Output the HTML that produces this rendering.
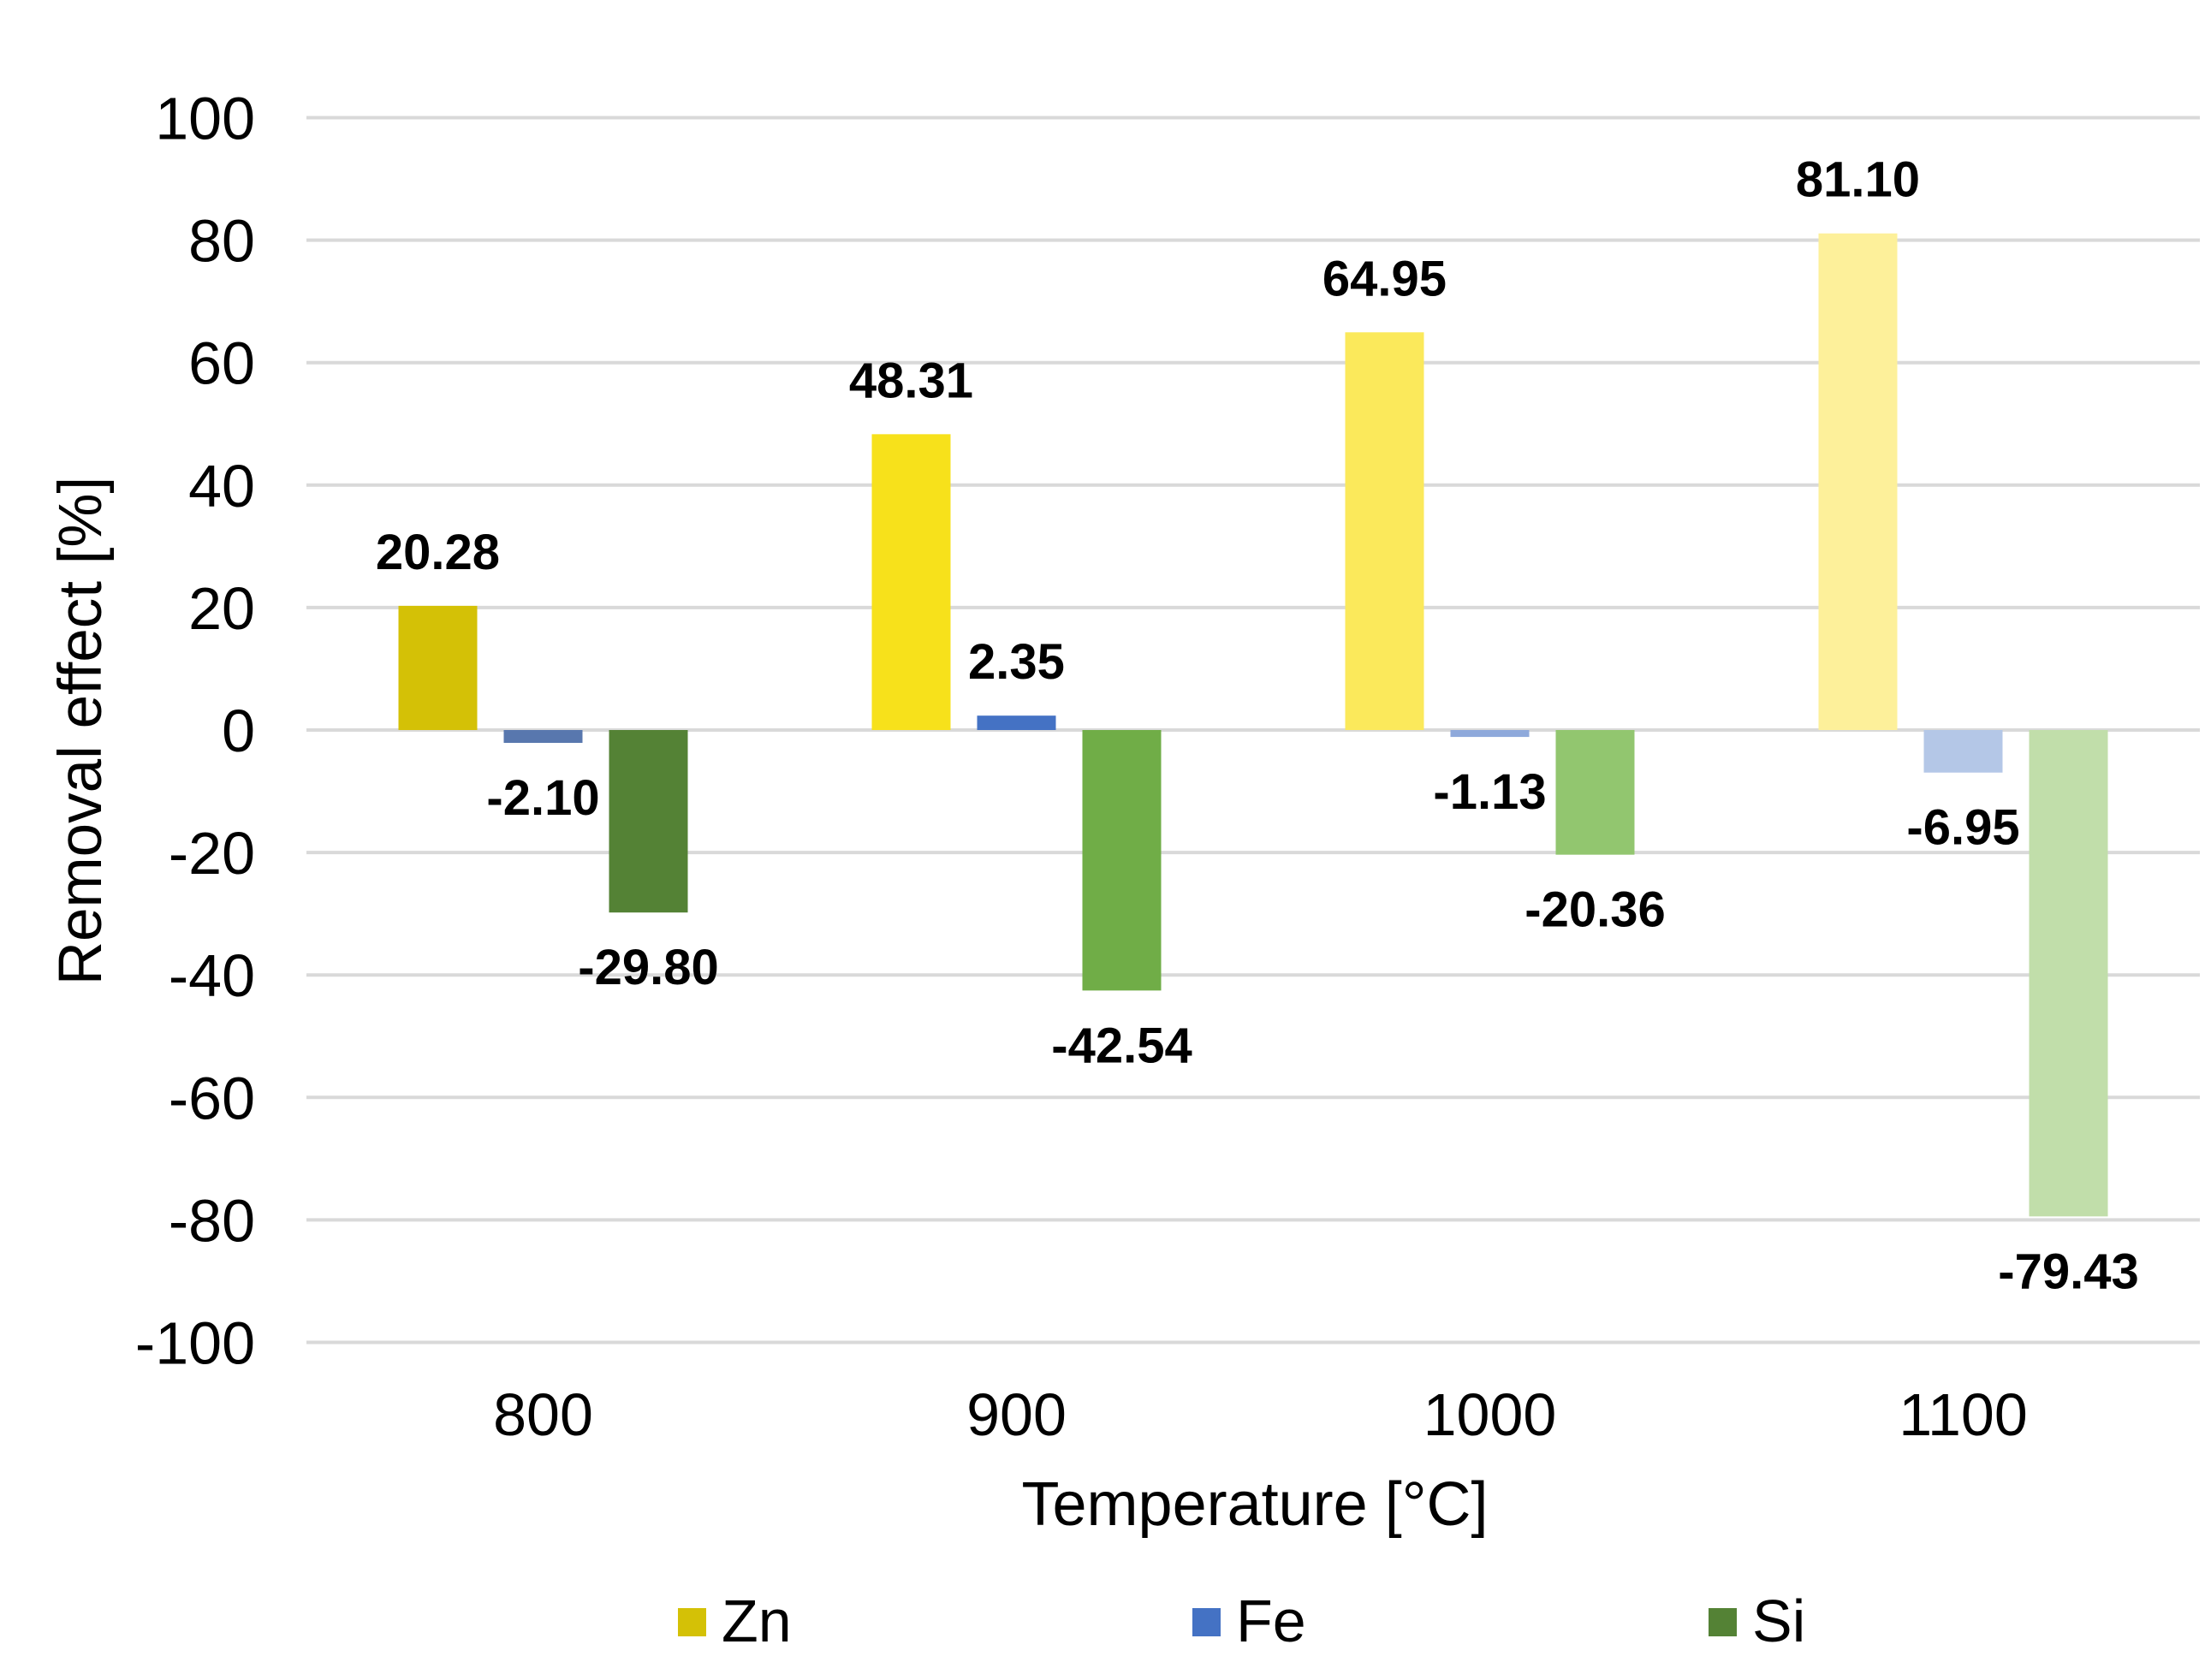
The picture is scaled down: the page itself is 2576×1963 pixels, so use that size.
<!DOCTYPE html>
<html><head><meta charset="utf-8"><style>
html,body{margin:0;padding:0;background:#fff;}
svg{display:block;font-family:"Liberation Sans",Arial,sans-serif;}
</style></head><body>
<svg id="chart" width="2576" height="1963" viewBox="0 0 2576 1963" xmlns="http://www.w3.org/2000/svg">
<rect width="2576" height="1963" fill="#fff"/>
<g id="grid"></g><g id="bars"></g><g id="labels"></g><g id="axes"></g>
<text x="0" y="0" transform="translate(118,854) rotate(-90)" text-anchor="middle" font-size="71" fill="#000">Removal effect [%]</text>
<text x="1466" y="1782" text-anchor="middle" font-size="72" fill="#000">Temperature [°C]</text>
<g>
<g><rect x="792" y="1879" width="33" height="33" fill="#D4C106"/><text x="843" y="1918" font-size="70">Zn</text></g>
<g><rect x="1393" y="1879" width="33" height="33" fill="#4472C4"/><text x="1444" y="1918" font-size="70">Fe</text></g>
<g><rect x="1996" y="1879" width="33" height="33" fill="#548235"/><text x="2047" y="1918" font-size="70">Si</text></g>
</g>
</svg>
<script>
const categories = ["800","900","1000","1100"];
const seriesNames = ["Zn","Fe","Si"];
const zn = [20.28, 48.31, 64.95, 81.10];
const fe = [-2.10, 2.35, -1.13, -6.95];
const si = [-29.80, -42.54, -20.36, -79.43];
const yTicks = [100,80,60,40,20,0,-20,-40,-60,-80,-100];
const colors = [
  ["#D4C106","#F7E11B","#FBE95B","#FDF09A"],
  ["#5877AE","#4472C4","#8EA9DB","#B4C7E7"],
  ["#548235","#70AD47","#92C66F","#C1DEAA"]
];
const NS="http://www.w3.org/2000/svg";
const plotL=358, plotR=2570, y0=853, pxPer=7.155;
function yScale(v){return y0 - v*pxPer;}
const catW=(plotR-plotL)/categories.length;
function xCenter(i){return plotL + catW*(i+0.5);}
function mk(tag,attrs,parent){const e=document.createElementNS(NS,tag);for(const k in attrs)e.setAttribute(k,attrs[k]);parent.appendChild(e);return e;}
const grid=document.getElementById('grid'), bars=document.getElementById('bars'), labels=document.getElementById('labels'), axes=document.getElementById('axes');
yTicks.forEach(t=>{
  const y=yScale(t);
  const l=mk('line',{x1:plotL,x2:plotR,y1:y,y2:y,stroke:'#D9D9D9','stroke-width':4},grid);
  
  
  const tx=mk('text',{x:298,y:y+25,'text-anchor':'end','font-size':70,fill:'#000'},axes);
  tx.textContent=String(t);
  
  
});
categories.forEach((c,i)=>{
  const tx=mk('text',{x:xCenter(i),y:1677,'text-anchor':'middle','font-size':70,fill:'#000'},axes);
  tx.textContent=c;
  
  
});
const series=[zn,fe,si];
const bw=92, step=123;
series.forEach((vals,s)=>{
  vals.forEach((v,i)=>{
    const cx=xCenter(i)+(s-1)*step;
    const top=Math.min(yScale(v),y0), h=Math.abs(yScale(v)-y0);
    const r=mk('rect',{x:cx-bw/2,y:top,width:bw,height:Math.max(h,1),fill:colors[s][i]},bars);
    
    
    const ly = v>=0 ? yScale(v)-43 : yScale(v)+84;
    const t=mk('text',{x:cx,y:ly,'text-anchor':'middle','font-size':58,'font-weight':'bold',fill:'#000'},labels);
    t.textContent=v.toFixed(2);
    
    
  });
});
</script>
</body></html>
